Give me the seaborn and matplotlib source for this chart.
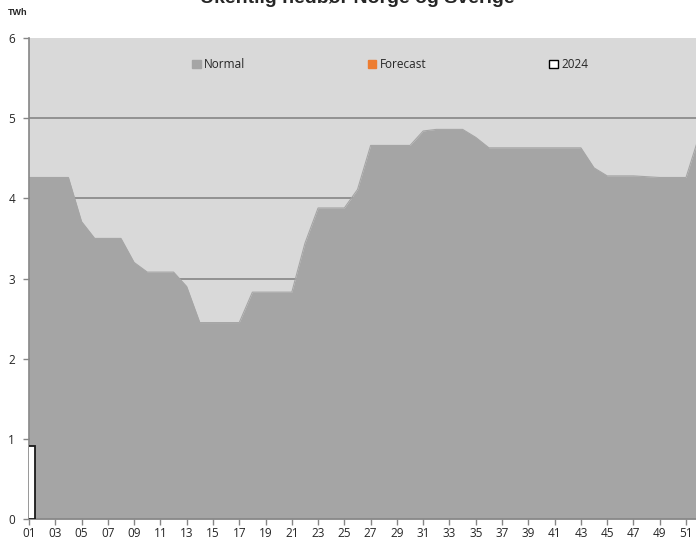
import matplotlib
matplotlib.use('Agg')
import matplotlib.pyplot as plt
import matplotlib.patches as mpatches
import seaborn as sns
import numpy as np
import pandas as pd

# weekly normal precipitation energy, Norway + Sweden (TWh)
weeks = list(range(1, 53))
normal = [4.26, 4.26, 4.26, 4.26, 3.71, 3.50, 3.50, 3.50, 3.20, 3.08,
          3.08, 3.08, 2.90, 2.45, 2.45, 2.45, 2.45, 2.83, 2.83, 2.83,
          2.83, 3.44, 3.88, 3.88, 3.88, 4.11, 4.66, 4.66, 4.66, 4.66,
          4.84, 4.86, 4.86, 4.86, 4.76, 4.63, 4.63, 4.63, 4.63, 4.63,
          4.63, 4.63, 4.63, 4.38, 4.28, 4.28, 4.28, 4.27, 4.26, 4.26,
          4.26, 4.78]
weeks_2024 = [1]
values_2024 = [0.91]
tick_weeks = list(range(1, 53, 2))
tick_labels = ['%02d' % w for w in tick_weeks]

df = pd.DataFrame({'week': weeks, 'normal': normal})

sns.set_style('white')
plt.rcParams['font.family'] = ['Open Sans', 'DejaVu Sans']

fig = plt.figure(figsize=(6.96, 5.39), dpi=100)
ax = fig.add_axes([29 / 696, 20 / 539, 1 - 29 / 696, 481 / 539])
ax.set_facecolor('#D9D9D9')

# gridlines behind the area
for y in [1, 2, 3, 4, 5]:
    ax.axhline(y, color='#868686', lw=1.2, zorder=0)

ax.fill_between(df['week'], 0, df['normal'], color='#A5A5A5', lw=0, zorder=1)
sns.lineplot(data=df, x='week', y='normal', ax=ax, color='#A5A5A5', lw=0.8, zorder=1)

ax.bar(weeks_2024, values_2024, width=0.9, color='white', edgecolor='#1a1a1a',
       lw=1.3, zorder=3)

ax.set_xlim(1, 51.76)
ax.set_ylim(0, 6)
ax.set_yticks([0, 1, 2, 3, 4, 5, 6])
ax.set_xticks(tick_weeks)
ax.set_xticklabels(tick_labels)
ax.set_xlabel('')
ax.set_ylabel('')
ax.tick_params(axis='both', labelsize=8.5, color='#868686', length=4, width=1,
               direction='out', bottom=True, left=True)
ax.tick_params(axis='y', pad=6)
ax.tick_params(axis='x', pad=2)
for side in ['top', 'right']:
    ax.spines[side].set_visible(False)
for side in ['left', 'bottom']:
    ax.spines[side].set_color('#868686')
    ax.spines[side].set_linewidth(1.2)

handles = [mpatches.Patch(color='#A5A5A5', label='Normal'),
           mpatches.Patch(color='#ED7D31', label='Forecast'),
           mpatches.Patch(facecolor='white', edgecolor='black', lw=1, label='2024')]
ax.legend(handles=handles, loc='upper left', bbox_to_anchor=(0.229, 0.98), ncol=3,
          frameon=False, fontsize=8.5, handlelength=0.7, handleheight=0.7,
          handletextpad=0.3, columnspacing=10.4)

fig.text(0.513, 0.994, 'Ukentlig nedbør Norge og Sverige', ha='center',
         va='baseline', fontsize=14, fontweight='bold', family='Liberation Sans')
fig.text(0.011, 0.977, 'TWh', ha='left', va='center', fontsize=6.5,
         fontweight='bold', family='Liberation Sans')

fig.savefig('out.png', dpi=100, facecolor='white')
